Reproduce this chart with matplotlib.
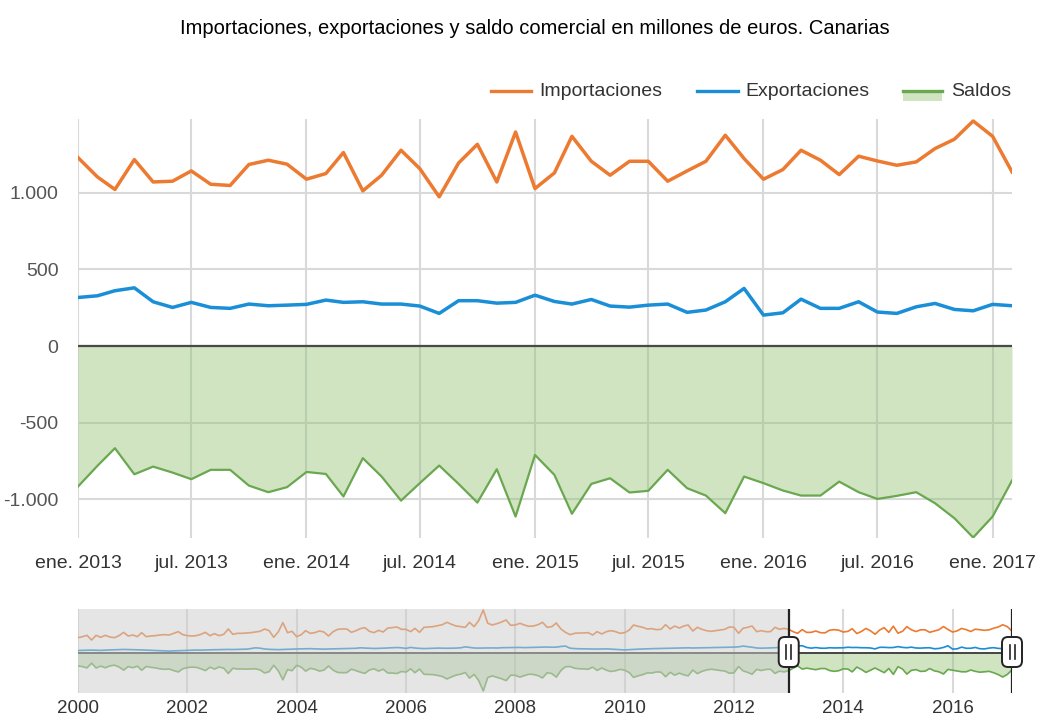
import numpy as np
import pandas as pd
import matplotlib
matplotlib.use('Agg')
import matplotlib.pyplot as plt
import matplotlib.dates as mdates
from matplotlib.lines import Line2D
from matplotlib.patches import Rectangle, FancyBboxPatch
from matplotlib.transforms import IdentityTransform

plt.rcParams['font.family'] = ['Liberation Sans', 'DejaVu Sans']

# --- datos: vista principal (ene. 2013 - feb. 2017) ---
fechas = pd.date_range('2013-01-01', periods=50, freq='MS')
importaciones = [1230, 1104, 1022, 1217, 1071, 1076, 1143, 1056, 1048, 1185,
                 1213, 1187, 1089, 1126, 1263, 1013, 1115, 1278, 1158, 974,
                 1195, 1317, 1071, 1397, 1028, 1130, 1369, 1206, 1115, 1206,
                 1206, 1076, 1143, 1206, 1376, 1224, 1089, 1152, 1278, 1213,
                 1119, 1239, 1208, 1180, 1202, 1289, 1350, 1469, 1369, 1137]
exportaciones = [317, 328, 361, 380, 289, 252, 285, 252, 246, 274,
                 263, 267, 272, 300, 285, 289, 274, 274, 261, 213,
                 296, 296, 280, 285, 332, 291, 274, 304, 261, 254,
                 267, 274, 220, 235, 289, 376, 202, 217, 306, 246,
                 246, 289, 222, 213, 256, 278, 239, 230, 272, 263]
saldos = [-917, -782, -667, -837, -787, -826, -869, -808, -808, -911,
          -954, -921, -822, -835, -982, -732, -852, -1009, -895, -780,
          -900, -1022, -804, -1113, -711, -841, -1095, -900, -863, -956,
          -945, -808, -928, -976, -1091, -852, -895, -943, -976, -976,
          -885, -954, -998, -978, -954, -1026, -1124, -1250, -1113, -878]

# --- datos: historico del navegador (2000 - 2012) ---
fechas_hist = pd.date_range('2000-01-01', periods=156, freq='MS')
imp_hist = [798, 850, 919, 676, 919, 815, 919, 832, 798, 902, 1075, 884,
            936, 850, 1058, 850, 884, 902, 936, 954, 936, 1023, 1110, 954,
            902, 884, 902, 971, 1075, 902, 1006, 902, 971, 1248, 971, 1023,
            1023, 1040, 1058, 1092, 1127, 1248, 1162, 815, 1110, 1578, 1058, 1127,
            850, 954, 1162, 1023, 1058, 1144, 1092, 884, 1110, 1231, 1248, 1248,
            1075, 1162, 1266, 1318, 1127, 1058, 1179, 1092, 1300, 1318, 1352, 1231,
            1231, 1110, 1283, 1075, 1335, 1352, 1370, 1422, 1474, 1595, 1491, 1404,
            1370, 1335, 1595, 1370, 1682, 2236, 1543, 1456, 1526, 1612, 1716, 1439,
            1456, 1543, 1456, 1387, 1404, 1474, 1595, 1335, 1370, 1560, 1248, 1075,
            954, 1023, 1040, 1040, 1058, 936, 1110, 988, 1110, 1162, 1110, 1023,
            1058, 1196, 1456, 1387, 1335, 1248, 1266, 1214, 1231, 1474, 1248, 1404,
            1300, 1404, 1456, 1144, 1335, 1231, 1162, 1127, 1162, 1196, 1231, 1352,
            1335, 1023, 1283, 1335, 1404, 1110, 1162, 1110, 1110, 1335, 1231, 1283]
exp_hist = [130, 140, 145, 150, 140, 135, 150, 160, 165, 175, 185, 180,
            170, 165, 160, 150, 140, 130, 115, 105, 100, 110, 125, 135,
            145, 150, 155, 150, 160, 165, 170, 175, 180, 185, 180, 190,
            195, 200, 230, 270, 250, 210, 190, 180, 175, 185, 200, 205,
            210, 215, 220, 225, 215, 205, 200, 210, 215, 220, 225, 230,
            235, 245, 270, 260, 245, 235, 240, 250, 260, 275, 285, 270,
            240, 290, 260, 240, 230, 235, 245, 255, 250, 245, 250, 255,
            270, 320, 290, 260, 255, 260, 270, 265, 260, 275, 280, 285,
            295, 290, 280, 285, 290, 295, 300, 310, 300, 305, 340, 360,
            250, 230, 220, 215, 210, 200, 205, 210, 215, 200, 190, 175,
            160, 175, 190, 200, 210, 215, 225, 230, 235, 240, 245, 250,
            255, 265, 270, 260, 265, 275, 280, 285, 290, 285, 295, 300,
            305, 320, 360, 330, 300, 260, 250, 255, 265, 275, 290, 300]
saldo_hist = [-668, -710, -774, -526, -779, -680, -769, -672, -633, -727, -890, -704,
              -766, -685, -898, -700, -744, -772, -821, -849, -836, -913, -985, -819,
              -757, -734, -747, -821, -915, -737, -836, -727, -791, -1063, -791, -833,
              -828, -840, -828, -822, -877, -1038, -972, -635, -935, -1393, -858, -922,
              -640, -739, -942, -798, -843, -939, -892, -674, -895, -1011, -1023, -1018,
              -840, -917, -996, -1058, -882, -823, -939, -842, -1040, -1043, -1067, -961,
              -991, -820, -1023, -835, -1105, -1117, -1125, -1167, -1224, -1350, -1241, -1149,
              -1100, -1015, -1305, -1110, -1427, -1976, -1273, -1191, -1266, -1337, -1436, -1154,
              -1161, -1253, -1176, -1102, -1114, -1179, -1295, -1025, -1070, -1255, -908, -715,
              -704, -793, -820, -825, -848, -736, -905, -778, -895, -962, -920, -848,
              -898, -1021, -1266, -1187, -1125, -1033, -1041, -984, -996, -1234, -1003, -1154,
              -1045, -1139, -1186, -884, -1070, -956, -882, -842, -872, -911, -936, -1052,
              -1030, -703, -923, -1005, -1104, -850, -912, -855, -845, -1060, -941, -983]

ticks_x = ['ene. 2013', 'jul. 2013', 'ene. 2014', 'jul. 2014', 'ene. 2015',
           'jul. 2015', 'ene. 2016', 'jul. 2016', 'ene. 2017']
ticks_y = [-1000, -500, 0, 500, 1000]
ticks_y_txt = ['-1.000', '-500', '0', '500', '1.000']
anios_nav = [2000, 2002, 2004, 2006, 2008, 2010, 2012, 2014, 2016]

c_imp = '#ec7a30'
c_exp = '#1a8ed6'
c_sal = '#6aa84f'
c_fill = '#8fbf6f'
c_grid = '#d9d9d9'
c_txt = '#333333'

W, H = 1040, 720
fig = plt.figure(figsize=(W / 100, H / 100), dpi=100)


def P(x, y):
    return x, H - y


ax = fig.add_axes([78 / W, 1 - 538 / H, 934 / W, 419 / H])
ax.fill_between(fechas, saldos, 0, color=c_fill, alpha=0.42, lw=0, zorder=1)
ax.plot(fechas, saldos, color=c_sal, lw=1.6, zorder=3)
ax.plot(fechas, importaciones, color=c_imp, lw=2.5, zorder=4)
ax.plot(fechas, exportaciones, color=c_exp, lw=2.5, zorder=4)
ax.axhline(0, color='#4a4a4a', lw=1.6, zorder=5)

ax.set_xlim(fechas[0], fechas[-1])
ax.set_ylim(-1253, 1482)
tick_dates = pd.date_range('2013-01-01', periods=len(ticks_x), freq='6MS')
ax.set_xticks(tick_dates)
ax.set_xticklabels(ticks_x)
ax.set_yticks(ticks_y)
ax.set_yticklabels(ticks_y_txt)
ax.set_axisbelow(True)
ax.grid(True, color=c_grid, lw=1.5, zorder=0)
ax.tick_params(length=0, labelsize=14, colors=c_txt)
ax.tick_params(axis='y', pad=14, colors='#555555')
ax.tick_params(axis='x', pad=12)
for s in ax.spines.values():
    s.set_visible(False)

# --- navegador ---
nav_fechas = fechas_hist.append(fechas)
nav_imp = imp_hist + importaciones
nav_exp = exp_hist + exportaciones
nav_sal = saldo_hist + saldos

ax2 = fig.add_axes([78 / W, 1 - 693 / H, 934 / W, 84 / H])
ax2.fill_between(nav_fechas, nav_sal, 0, color=c_fill, alpha=0.42, lw=0, zorder=1)
ax2.plot(nav_fechas, nav_sal, color=c_sal, lw=1.2, zorder=3)
ax2.plot(nav_fechas, nav_imp, color=c_imp, lw=1.2, zorder=3)
ax2.plot(nav_fechas, nav_exp, color=c_exp, lw=1.2, zorder=3)
ax2.axhline(0, color='#444444', lw=1.4, zorder=4)
ax2.set_xlim(pd.Timestamp('2000-01-01'), fechas[-1])
ax2.set_ylim(-2080, 2288)
ax2.set_xticks([pd.Timestamp(f'{a}-01-01') for a in anios_nav])
ax2.set_xticklabels([str(a) for a in anios_nav])
ax2.set_yticks([])
ax2.set_axisbelow(True)
ax2.grid(True, axis='x', color=c_grid, lw=1.5, zorder=0)
ax2.tick_params(length=0, labelsize=13.5, colors=c_txt, pad=5)
for s in ax2.spines.values():
    s.set_visible(False)

# zona no seleccionada
ax2.axvspan(pd.Timestamp('2000-01-01'), fechas[0], color='#cccccc', alpha=0.5,
            lw=0, zorder=6)
for d in (fechas[0], fechas[-1]):
    ax2.axvline(d, color='#222222', lw=1.6, zorder=7)

# manejadores del navegador
for d in (fechas[0], fechas[-1]):
    hx = ax2.transData.transform((mdates.date2num(d), 0))[0]
    hy = H - 652
    box = FancyBboxPatch((hx - 10, hy - 15), 20, 30,
                         boxstyle='round,pad=0,rounding_size=6',
                         facecolor='white', edgecolor='#222222', lw=1.4,
                         transform=IdentityTransform(), zorder=10)
    fig.add_artist(box)
    for dx in (-2.5, 2.5):
        fig.add_artist(Line2D([hx + dx, hx + dx], [hy - 7, hy + 7], color='#222222',
                              lw=1.2, transform=IdentityTransform(), zorder=11))

# --- titulo ---
fig.text(*P(535, 28), 'Importaciones, exportaciones y saldo comercial en millones de euros. Canarias',
         transform=IdentityTransform(), ha='center', va='center', fontsize=14.5,
         color='black')

# --- leyenda ---
ly = 91
items = [(491, 531, 539, 'Importaciones', c_imp),
         (697, 738, 745, 'Exportaciones', c_exp),
         (903, 942, 951, 'Saldos', c_sal)]
for x0, x1, tx, lab, col in items:
    if lab == 'Saldos':
        fig.add_artist(Rectangle(P(x0, ly + 10), x1 - x0, 10, facecolor=c_fill,
                                 alpha=0.42, lw=0, transform=IdentityTransform()))
    fig.add_artist(Line2D([x0, x1], [H - ly, H - ly], color=col, lw=2.4,
                          transform=IdentityTransform()))
    fig.text(*P(tx, ly), lab, transform=IdentityTransform(), ha='left',
             va='center', fontsize=14, color=c_txt)

fig.savefig('out.png', dpi=100)
